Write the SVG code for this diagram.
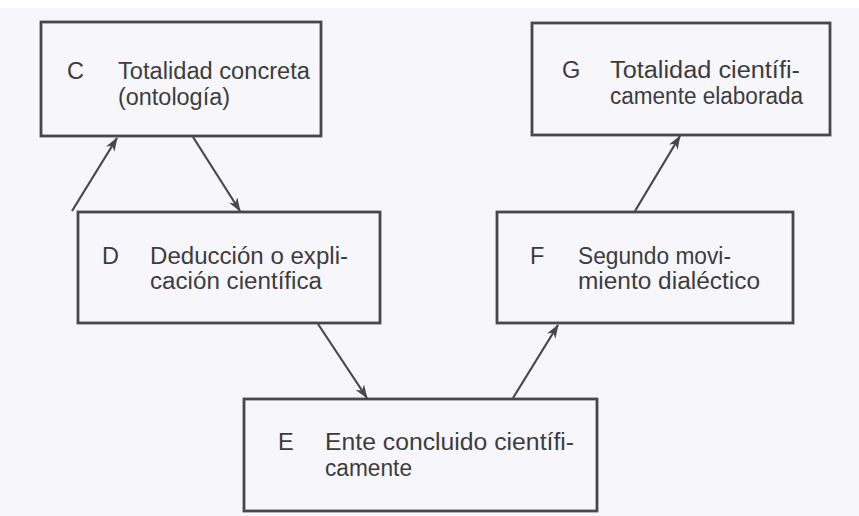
<svg xmlns="http://www.w3.org/2000/svg" width="859" height="516" viewBox="0 0 859 516">
<defs>
<style>
.box{fill:none;stroke:#48484c;stroke-width:2.8}
.t{font-family:"Liberation Sans",Arial,sans-serif;font-size:23.5px;fill:#3c3c40}
.c{stroke:#48484c;stroke-width:2.2;fill:none}
</style>
<marker id="ah" viewBox="0 0 14 10" refX="13" refY="5" markerWidth="14" markerHeight="10" markerUnits="userSpaceOnUse" orient="auto">
<path d="M0,0 L14,5 L0,10 L4,5 Z" fill="#48484c"/>
</marker>
</defs>
<rect x="0" y="0" width="859" height="516" fill="#ffffff"/>
<rect x="0" y="8" width="859" height="508" fill="#f7f7fb"/>
<g id="node-C">
<rect class="box" x="41" y="22" width="280" height="114"/>
<text class="t" x="67" y="79">C</text>
<text class="t" x="118" y="79" textLength="192" lengthAdjust="spacingAndGlyphs">Totalidad concreta</text>
<text class="t" x="118" y="105" textLength="112" lengthAdjust="spacingAndGlyphs">(ontología)</text>
</g>
<g id="node-G">
<rect class="box" x="532" y="23" width="298" height="112"/>
<text class="t" x="562" y="78">G</text>
<text class="t" x="610" y="78" textLength="190" lengthAdjust="spacingAndGlyphs">Totalidad científi-</text>
<text class="t" x="610" y="104" textLength="193" lengthAdjust="spacingAndGlyphs">camente elaborada</text>
</g>
<g id="node-D">
<rect class="box" x="78" y="212" width="302" height="111"/>
<text class="t" x="102" y="264">D</text>
<text class="t" x="150" y="264" textLength="198" lengthAdjust="spacingAndGlyphs">Deducción o expli-</text>
<text class="t" x="150" y="289" textLength="172" lengthAdjust="spacingAndGlyphs">cación científica</text>
</g>
<g id="node-F">
<rect class="box" x="497" y="212" width="296" height="111"/>
<text class="t" x="530" y="264">F</text>
<text class="t" x="578" y="264" textLength="153" lengthAdjust="spacingAndGlyphs">Segundo movi-</text>
<text class="t" x="578" y="289" textLength="182" lengthAdjust="spacingAndGlyphs">miento dialéctico</text>
</g>
<g id="node-E">
<rect class="box" x="244" y="399" width="353" height="112"/>
<text class="t" x="278" y="450">E</text>
<text class="t" x="325" y="450" textLength="249" lengthAdjust="spacingAndGlyphs">Ente concluido científi-</text>
<text class="t" x="325" y="476" textLength="87" lengthAdjust="spacingAndGlyphs">camente</text>
</g>
<g id="connectors">
<line class="c" x1="72" y1="211" x2="117" y2="138" marker-end="url(#ah)"/>
<line class="c" x1="193" y1="137" x2="240" y2="211" marker-end="url(#ah)"/>
<line class="c" x1="318" y1="324" x2="367" y2="398" marker-end="url(#ah)"/>
<line class="c" x1="513" y1="398" x2="558" y2="325" marker-end="url(#ah)"/>
<line class="c" x1="635" y1="211" x2="680" y2="136" marker-end="url(#ah)"/>
</g>
</svg>
